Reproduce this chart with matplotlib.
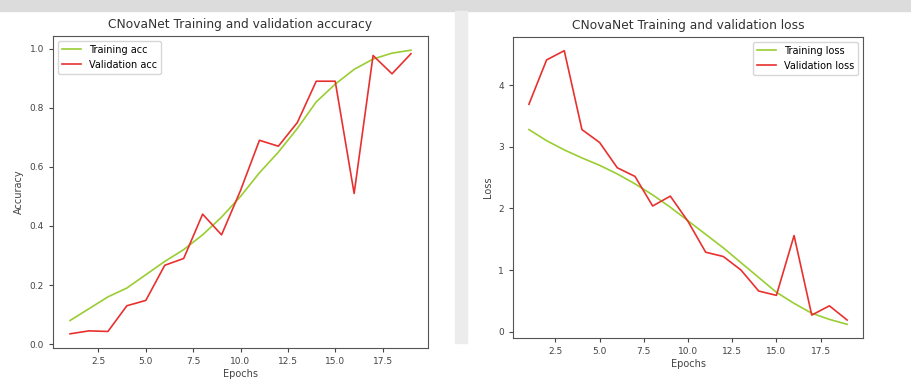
import matplotlib
matplotlib.use('Agg')
import matplotlib.pyplot as plt
from matplotlib.patches import Rectangle

epochs = list(range(1, 20))

train_acc = [0.08, 0.12, 0.16, 0.19, 0.235, 0.28, 0.32, 0.37, 0.43, 0.50,
             0.58, 0.65, 0.73, 0.82, 0.88, 0.93, 0.965, 0.985, 0.995]
val_acc = [0.035, 0.045, 0.043, 0.13, 0.148, 0.267, 0.29, 0.44, 0.37, 0.52,
           0.69, 0.67, 0.75, 0.89, 0.89, 0.51, 0.977, 0.915, 0.983]

train_loss = [3.28, 3.1, 2.95, 2.82, 2.7, 2.56, 2.4, 2.22, 2.02, 1.8,
              1.58, 1.36, 1.12, 0.88, 0.64, 0.46, 0.3, 0.2, 0.12]
val_loss = [3.69, 4.41, 4.56, 3.28, 3.07, 2.66, 2.52, 2.04, 2.2, 1.79,
            1.29, 1.22, 1.0, 0.66, 0.59, 1.56, 0.27, 0.42, 0.19]

fig = plt.figure(figsize=(9.11, 3.81), dpi=100)

# screenshot backdrop
fig.patches.append(Rectangle((0, 0.97), 1, 0.03, transform=fig.transFigure,
                             color='#dcdcdc', zorder=0))
fig.patches.append(Rectangle((0.499, 0.1), 0.014, 0.87, transform=fig.transFigure,
                             color='#ececec', zorder=0))

ax1 = fig.add_axes([53 / 911, 1 - 348 / 381, 375 / 911, 312 / 381])
ax2 = fig.add_axes([513 / 911, 1 - 338 / 381, 350 / 911, 301 / 381])

ax1.plot(epochs, train_acc, color='yellowgreen', lw=1.2, label='Training acc')
ax1.plot(epochs, val_acc, color='#e8312f', lw=1.2, label='Validation acc')
ax1.set_title('CNovaNet Training and validation accuracy', fontsize=8.8, color='#333333')
ax1.set_xlabel('Epochs', fontsize=7, color='#444444', labelpad=2)
ax1.set_ylabel('Accuracy', fontsize=7, color='#444444')
ax1.legend(fontsize=7, loc='upper left')

ax2.plot(epochs, train_loss, color='yellowgreen', lw=1.2, label='Training loss')
ax2.plot(epochs, val_loss, color='#e8312f', lw=1.2, label='Validation loss')
ax2.set_title('CNovaNet Training and validation loss', fontsize=8.8, color='#333333')
ax2.set_xlabel('Epochs', fontsize=7, color='#444444', labelpad=2)
ax2.set_ylabel('Loss', fontsize=7, color='#444444')
ax2.legend(fontsize=7, loc='upper right')

for ax in (ax1, ax2):
    ax.tick_params(labelsize=6.5, colors='#444444', length=3)
    for s in ax.spines.values():
        s.set_color('#555555')

fig.savefig('out.png', dpi=100)
